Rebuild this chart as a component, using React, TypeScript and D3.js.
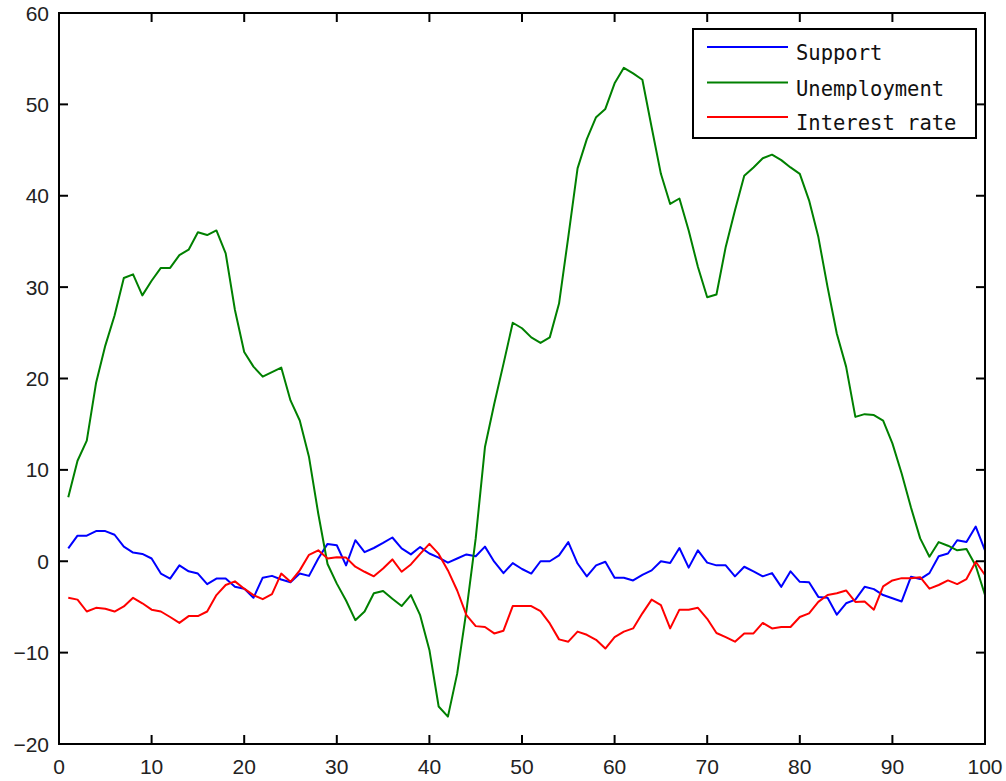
import React from "react";
import * as d3 from "d3";

const xValues: number[] = Array.from({ length: 100 }, (_, i) => i + 1);

const support: number[] = [
  1.4, 2.8, 2.8, 3.3, 3.3, 2.9, 1.6, 0.95, 0.8, 0.3,
  -1.35, -1.9, -0.45, -1.1, -1.35, -2.5, -1.9, -1.9, -2.8, -3.0,
  -4.0, -1.8, -1.6, -2.0, -2.3, -1.35, -1.6, 0.3, 1.9, 1.75,
  -0.45, 2.3, 1.0, 1.45, 2.0, 2.6, 1.4, 0.75, 1.55, 0.85,
  0.4, -0.15, 0.3, 0.75, 0.55, 1.6, -0.05, -1.3, -0.2, -0.85,
  -1.35, 0, 0, 0.65, 2.1, -0.25, -1.65, -0.45, -0.05, -1.8,
  -1.8, -2.1, -1.5, -1.0, 0, -0.2, 1.45, -0.7, 1.2, -0.15,
  -0.45, -0.45, -1.65, -0.6, -1.1, -1.65, -1.3, -2.8, -1.1, -2.25,
  -2.3, -3.9, -4.0, -5.85, -4.6, -4.2, -2.8, -3.05, -3.7, -4.05,
  -4.4, -1.7, -1.95, -1.3, 0.55, 0.85, 2.3, 2.1, 3.8, 1.2,
];

const unemployment: number[] = [
  7.0, 11.0, 13.2, 19.5, 23.6, 26.9, 31.0, 31.4, 29.1, 30.7,
  32.1, 32.1, 33.5, 34.1, 36.0, 35.7, 36.2, 33.7, 27.5, 22.9,
  21.3, 20.2, 20.7, 21.2, 17.6, 15.4, 11.4, 5.2, -0.3, -2.45,
  -4.3, -6.45, -5.5, -3.5, -3.25, -4.1, -4.9, -3.7, -5.9, -9.7,
  -15.9, -17.0, -12.3, -5.4, 2.5, 12.5, 17.2, 21.6, 26.1, 25.5,
  24.5, 23.9, 24.5, 28.2, 35.5, 43.0, 46.2, 48.6, 49.5, 52.3,
  54.0, 53.4, 52.7, 47.5, 42.4, 39.1, 39.7, 36.2, 32.2, 28.9,
  29.2, 34.4, 38.4, 42.2, 43.1, 44.1, 44.5, 43.9, 43.1, 42.4,
  39.5, 35.5, 30.0, 24.9, 21.3, 15.8, 16.1, 16.0, 15.4, 12.9,
  9.6, 5.9, 2.5, 0.5, 2.1, 1.7, 1.2, 1.35, -0.5, -3.7,
];

const interestRate: number[] = [
  -4.0, -4.2, -5.5, -5.1, -5.2, -5.5, -4.95, -4.0, -4.6, -5.3,
  -5.5, -6.1, -6.75, -6.0, -6.0, -5.5, -3.7, -2.6, -2.2, -3.0,
  -3.7, -4.15, -3.6, -1.35, -2.25, -1.0, 0.7, 1.2, 0.3, 0.45,
  0.4, -0.6, -1.15, -1.65, -0.8, 0.2, -1.15, -0.35, 0.8, 1.9,
  0.8, -1.0, -3.2, -5.9, -7.1, -7.2, -7.9, -7.6, -4.9, -4.9,
  -4.9, -5.45, -6.8, -8.55, -8.8, -7.7, -8.05, -8.6, -9.55, -8.3,
  -7.7, -7.35, -5.7, -4.2, -4.8, -7.35, -5.3, -5.3, -5.1, -6.3,
  -7.85, -8.3, -8.8, -7.9, -7.9, -6.75, -7.35, -7.2, -7.2, -6.1,
  -5.7, -4.45, -3.7, -3.5, -3.2, -4.45, -4.4, -5.3, -2.75, -2.1,
  -1.85, -1.85, -1.75, -3.0, -2.6, -2.1, -2.5, -1.95, -0.05, -1.5,
];

const seriesNames: string[] = ["Support", "Unemployment", "Interest rate"];
const seriesColors: string[] = ["#0000ff", "#008000", "#ff0000"];
const xTicks: number[] = [0, 10, 20, 30, 40, 50, 60, 70, 80, 90, 100];
const yTicks: number[] = [-20, -10, 0, 10, 20, 30, 40, 50, 60];

const W = 1006;
const H = 781;
const left = 59;
const right = 985;
const top = 13;
const bottom = 744;
const tickLen = 9;

export default function App() {
  const x = d3.scaleLinear().domain([0, 100]).range([left, right]);
  const y = d3.scaleLinear().domain([-20, 60]).range([bottom, top]);
  const allSeries = [support, unemployment, interestRate];
  const line = d3
    .line<number>()
    .x((_, i) => x(xValues[i]))
    .y((d) => y(d));

  const legendX = 693;
  const legendY = 29;
  const legendW = 283;
  const legendH = 109;
  const rowY = [47, 82.5, 117];

  return (
    <div style={{ position: "absolute", left: 0, top: 0 }}>
      <svg width={W} height={H} style={{ display: "block", background: "#fff" }}>
        <rect x={0} y={0} width={W} height={H} fill="#fff" />
        {allSeries.map((s, k) => (
          <path
            key={seriesNames[k]}
            d={line(s) || ""}
            fill="none"
            stroke={seriesColors[k]}
            strokeWidth={2}
            strokeLinejoin="round"
          />
        ))}
        <rect
          x={left}
          y={top}
          width={right - left}
          height={bottom - top}
          fill="none"
          stroke="#000"
          strokeWidth={2}
        />
        {xTicks.map((t) => (
          <g key={"xt" + t}>
            <line x1={x(t)} x2={x(t)} y1={bottom} y2={bottom - tickLen} stroke="#000" strokeWidth={2} />
            <line x1={x(t)} x2={x(t)} y1={top} y2={top + tickLen} stroke="#000" strokeWidth={2} />
            <text
              x={x(t)}
              y={bottom + 30}
              textAnchor="middle"
              fontFamily="Liberation Sans, Arial, sans-serif"
              fontSize={21}
              fill="#222"
            >
              {t}
            </text>
          </g>
        ))}
        {yTicks.map((t) => (
          <g key={"yt" + t}>
            <line x1={left} x2={left + tickLen} y1={y(t)} y2={y(t)} stroke="#000" strokeWidth={2} />
            <line x1={right} x2={right - tickLen} y1={y(t)} y2={y(t)} stroke="#000" strokeWidth={2} />
            <text
              x={left - 10}
              y={y(t)}
              dy="0.36em"
              textAnchor="end"
              fontFamily="Liberation Sans, Arial, sans-serif"
              fontSize={21}
              fill="#222"
            >
              {t === -20 || t === -10 ? "\u2212" + Math.abs(t) : t}
            </text>
          </g>
        ))}
        <rect
          x={legendX}
          y={legendY}
          width={legendW}
          height={legendH}
          fill="#fff"
          stroke="#000"
          strokeWidth={2}
        />
        {seriesNames.map((n, k) => (
          <g key={"lg" + n}>
            <line x1={707} x2={788} y1={rowY[k]} y2={rowY[k]} stroke={seriesColors[k]} strokeWidth={2} />
            <text
              x={796}
              y={rowY[k] + 13}
              fontFamily="DejaVu Sans Mono, Liberation Mono, monospace"
              fontSize={20.5}
              fill="#111"
            >
              {n}
            </text>
          </g>
        ))}
      </svg>
    </div>
  );
}
